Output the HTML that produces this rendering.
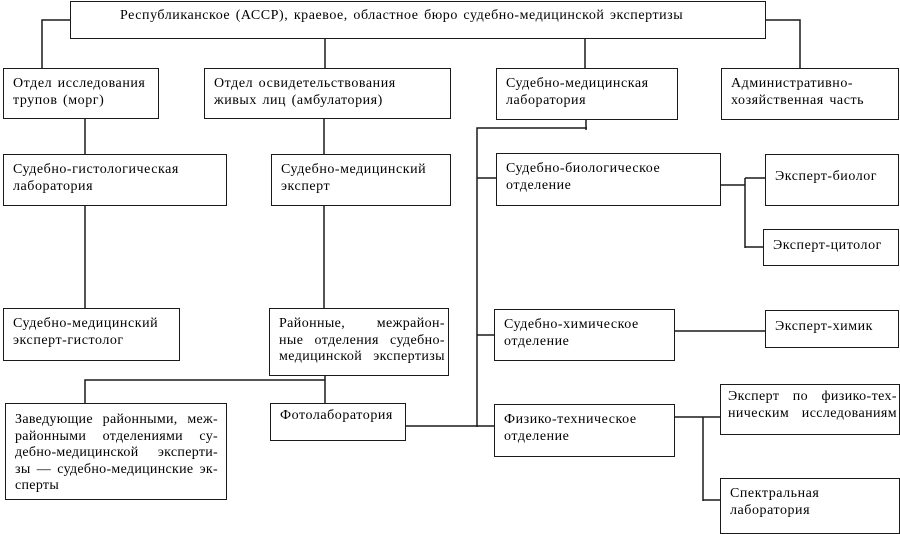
<!DOCTYPE html>
<html><head><meta charset="utf-8"><style>
html,body{margin:0;padding:0;background:#fff;}
body{width:900px;height:533px;position:relative;overflow:hidden;font-family:"Liberation Serif","DejaVu Serif",serif;font-size:14px;color:#000;}
.b{position:absolute;box-sizing:border-box;border:1.6px solid #1a1a1a;padding:7px 6px 0 9px;line-height:16.5px;letter-spacing:0.55px;word-spacing:1.5px;white-space:nowrap;}
.j span{display:block;text-align:justify;text-align-last:justify;white-space:nowrap;}
.j span.l{text-align-last:left;}
svg{position:absolute;left:0;top:0;}
</style></head><body>
<svg width="900" height="533" stroke="#1a1a1a" stroke-width="1.5" fill="none">
<polyline points="70,20 42,20 42,68"/>
<line x1="325" y1="38" x2="325" y2="68"/>
<line x1="585" y1="38" x2="585" y2="68"/>
<polyline points="765,20 800,20 800,68"/>
<line x1="85" y1="118" x2="85" y2="154"/>
<line x1="324" y1="118" x2="324" y2="154"/>
<line x1="85" y1="205" x2="85" y2="308"/>
<line x1="324" y1="205" x2="324" y2="308"/>
<polyline points="85,403 85,380 325,380"/>
<line x1="325" y1="375" x2="325" y2="403"/>
<line x1="586" y1="120" x2="586" y2="130"/>
<polyline points="587,128 477,128 477,427"/>
<line x1="477" y1="178" x2="496" y2="178"/>
<line x1="477" y1="335" x2="494" y2="335"/>
<line x1="405" y1="426" x2="494" y2="426"/>
<line x1="720" y1="185" x2="745" y2="185"/>
<line x1="745" y1="178" x2="745" y2="248"/>
<line x1="745" y1="178" x2="765" y2="178"/>
<line x1="745" y1="247" x2="763" y2="247"/>
<line x1="674" y1="331" x2="765" y2="331"/>
<line x1="674" y1="417" x2="720" y2="417"/>
<line x1="703" y1="417" x2="703" y2="501"/>
<line x1="703" y1="500" x2="720" y2="500"/>
</svg>
<div class="b" style="left:70px;top:1px;width:696px;height:38px;padding:6px 0 0 49px;">Республиканское (АССР), краевое, областное бюро судебно-медицинской экспертизы</div>
<div class="b" style="left:3px;top:68px;width:156px;height:51px;">Отдел исследования<br>трупов (морг)</div>
<div class="b" style="left:204px;top:68px;width:247px;height:51px;">Отдел освидетельствования<br>живых лиц (амбулатория)</div>
<div class="b" style="left:496px;top:68px;width:182px;height:52px;">Судебно-медицинская<br>лаборатория</div>
<div class="b" style="left:721px;top:68px;width:178px;height:52px;">Административно-<br>хозяйственная часть</div>
<div class="b" style="left:3px;top:154px;width:224px;height:52px;">Судебно-гистологическая<br>лаборатория</div>
<div class="b" style="left:271px;top:154px;width:180px;height:52px;">Судебно-медицинский<br>эксперт</div>
<div class="b" style="left:496px;top:153px;width:225px;height:53px;">Судебно-биологическое<br>отделение</div>
<div class="b" style="left:765px;top:154px;width:134px;height:52px;padding-top:14px;">Эксперт-биолог</div>
<div class="b" style="left:763px;top:229px;width:136px;height:37px;padding-top:8px;">Эксперт-цитолог</div>
<div class="b" style="left:3px;top:308px;width:177px;height:53px;">Судебно-медицинский<br>эксперт-гистолог</div>
<div class="b j" style="left:269px;top:308px;width:180px;height:68px;padding:7px 3px 0 9px;letter-spacing:0.4px;"><span>Районные,&nbsp;&nbsp; межрайон-</span><span>ные отделения судебно-</span><span>медицинской экспертизы</span></div>
<div class="b" style="left:494px;top:309px;width:181px;height:52px;">Судебно-химическое<br>отделение</div>
<div class="b" style="left:765px;top:310px;width:134px;height:38px;padding-top:8px;">Эксперт-химик</div>
<div class="b j" style="left:5px;top:403px;width:222px;height:97px;padding:8px 8px 0 9px;letter-spacing:0.3px;word-spacing:0;"><span>Заведующие районными, меж-</span><span>районными отделениями су-</span><span>дебно-медицинской эксперти-</span><span>зы — судебно-медицинские эк-</span><span class="l">сперты</span></div>
<div class="b" style="left:270px;top:403px;width:136px;height:38px;padding-top:4px;">Фотолаборатория</div>
<div class="b" style="left:494px;top:404px;width:181px;height:53px;">Физико-техническое<br>отделение</div>
<div class="b j" style="left:720px;top:384px;width:180px;height:51px;padding:4px 2px 0 7px;letter-spacing:0.4px;"><span>Эксперт по физико-тех-</span><span>ническим исследованиям</span></div>
<div class="b" style="left:720px;top:478px;width:180px;height:56px;padding-top:7px;">Спектральная<br>лаборатория</div>
</body></html>
